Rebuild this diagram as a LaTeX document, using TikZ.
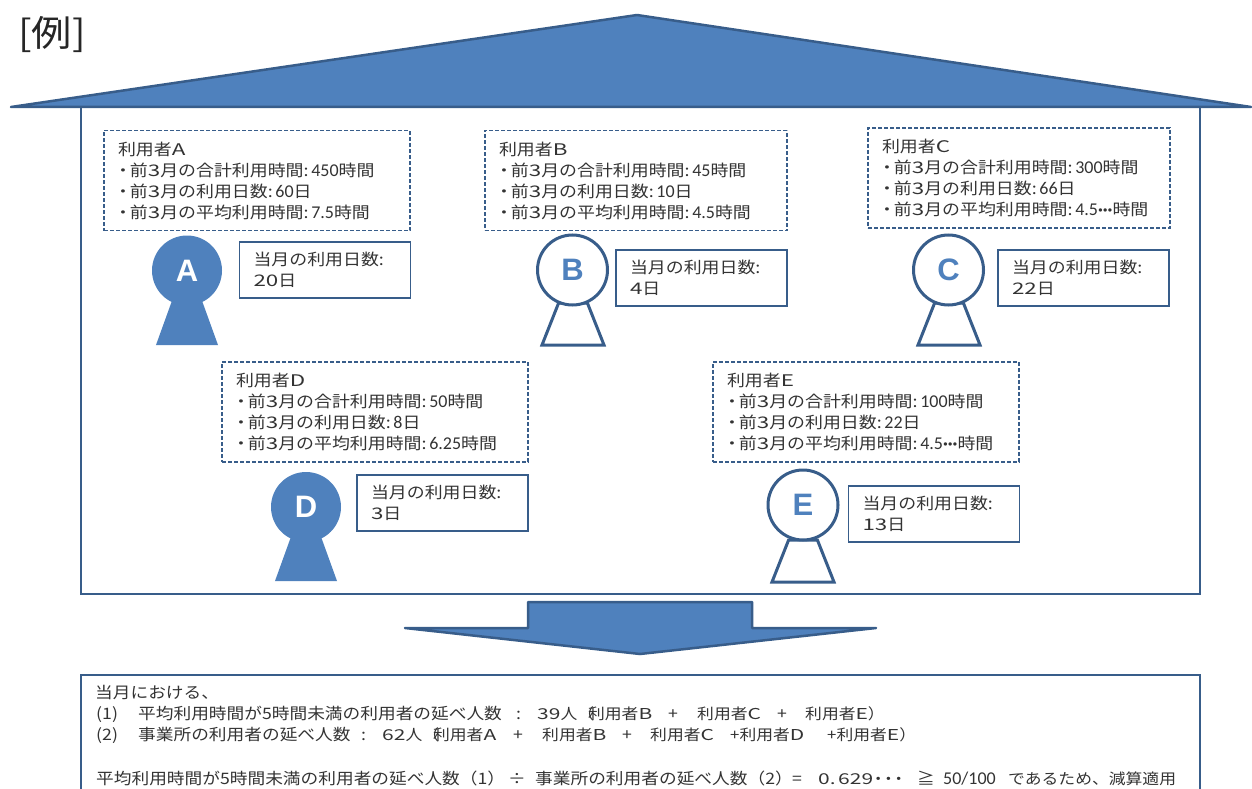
\documentclass[tikz,border=0pt]{standalone}
\usepackage{fontspec}
\setmainfont{Noto Sans CJK JP}[FakeStretch=1.12]
\newfontfamily\numfont{Carlito}
\newfontfamily\widefont{Noto Sans CJK JP}[FakeStretch=1.4]
\newfontfamily\markfont{Liberation Sans}
\usetikzlibrary{shapes.geometric}
\definecolor{blockfill}{HTML}{4F81BD}
\definecolor{blockline}{HTML}{385D8A}
\newcommand{\dig}[1]{{\numfont\fontsize{18}{21}\selectfont #1}}
\newcommand{\wid}[1]{{\widefont #1}}
\newcommand{\usr}[1]{利用者\wid{#1}}
\newcommand{\zan}{{\bfseries ···}}
\newcommand{\tb}[2]{\leavevmode\rlap{\hspace*{#1pt}#2}}
\newcommand{\tbs}[2]{\tb{#1}{\fontsize{15}{20.8}\selectfont #2}}
\newcommand{\opn}{（\kern-6pt}
\newcommand{\mon}{\hspace*{-4pt}・\hspace{-2pt}前\wid{3}月の}
\newcommand{\userinfo}[4]{\usr{#1}\\\mon 合計利用時間:\,\dig{#2}時間\\\mon 利用日数:\,\dig{#3}日\\\mon 平均利用時間:\,\dig{#4}時間}
\newcommand{\bodysize}{\phantom{\rule{1pt}{1pt}}}
\tikzset{
    infobox/.style={draw=blockline,dash pattern=on 4pt off 2pt,line width=1.4pt,minimum height=100pt,text width=278pt,inner xsep=14pt,inner ysep=0pt,align=left,text=black!80,font=\fontsize{16}{21}\selectfont},
    daybox/.style={draw=blockline,line width=1.4pt,minimum height=56pt,text width=143pt,inner xsep=14pt,inner ysep=0pt,align=left,text=black!80,font=\fontsize{16}{21}\selectfont},
    headfill/.style={circle,fill=blockfill,minimum size=70pt,inner sep=0pt,text=white,font=\markfont\bfseries\fontsize{31}{31}\selectfont},
    headline/.style={circle,draw=blockline,fill=white,line width=3pt,minimum size=70pt,inner sep=0pt,text=blockfill,font=\markfont\bfseries\fontsize{31}{31}\selectfont},
    bodyfill/.style={trapezium,trapezium stretches=true,trapezium left angle=60,trapezium right angle=60,fill=blockfill,minimum width=62pt,minimum height=46pt,inner sep=0pt},
    bodyline/.style={trapezium,trapezium stretches=true,trapezium left angle=60,trapezium right angle=60,draw=blockline,line width=3pt,minimum width=62pt,minimum height=42pt,inner sep=0pt},
    plate/.style={fill=blockfill,draw=blockline,line width=2.5pt,line join=round}
}
\begin{document}
\begin{tikzpicture}[x=1pt,y=-1pt]
	\useasboundingbox (0,0) rectangle (1252,789);
	% house
	\draw[blockline,line width=2.5pt] (81,107) rectangle (1200,594);
	\draw[plate] (11,107) -- (637,15) -- (1251,107) -- cycle;
	\node[font=\fontsize{36}{36}\selectfont,text=black!85] (title) at (52,35) {[例]};
	% users
	\node[infobox] (infoA) at (257,180.5) {\userinfo{A}{450}{60}{7.5}};
	\node[infobox,text width=274pt] (infoB) at (636,180.5) {\userinfo{B}{45}{10}{4.5}};
	\node[infobox,text width=274pt] (infoC) at (1019,178) {\userinfo{C}{300}{66}{4.5\zan}};
	\node[infobox] (infoD) at (375,412) {\userinfo{D}{50}{8}{6.25}};
	\node[infobox] (infoE) at (866,412) {\userinfo{E}{100}{22}{4.5\zan}};
	\node[daybox] (dayA) at (325,270) {当月の利用日数:\\\wid{20}日};
	\node[daybox] (dayB) at (701.5,278) {当月の利用日数:\\\wid{4}日};
	\node[daybox] (dayC) at (1083.5,278) {当月の利用日数:\\\wid{22}日};
	\node[daybox] (dayD) at (442.5,503) {当月の利用日数:\\\wid{3}日};
	\node[daybox] (dayE) at (934,514) {当月の利用日数:\\\wid{13}日};
	\node[bodyfill] (bodyA) at (187,322) {\bodysize};
	\node[headfill] (headA) at (187,270.5) {A};
	\node[bodyline] (bodyB) at (573,324) {\bodysize};
	\node[headline] (headB) at (572.5,270) {B};
	\node[bodyline] (bodyC) at (949,324) {\bodysize};
	\node[headline] (headC) at (948.5,270) {C};
	\node[bodyfill] (bodyD) at (306,558) {\bodysize};
	\node[headfill] (headD) at (306,507) {D};
	\node[bodyline] (bodyE) at (803,561) {\bodysize};
	\node[headline] (headE) at (803,505) {E};
	% arrow
	\draw[plate] (528,602) -- (752,602) -- (752,628) -- (876,628) -- (640,654) -- (405,628) -- (528,628) -- cycle;
	% result
	\draw[blockline,line width=2pt] (81,789) -- (81,675) -- (1200,675) -- (1200,789);
	\node[anchor=north west,inner sep=0pt,text width=1100pt,align=left,text=black!80,font=\fontsize{15.8}{20.8}\selectfont] (result) at (95,685) {当月における、\\
	\tb{1}{(1)}\tb{43}{平均利用時間が5時間未満の利用者の延べ人数}\tb{421}{:}\tbs{442}{\wid{39}人\opn\usr{B}}\tb{573}{+}\tbs{602}{\usr{C}}\tb{682}{+}\tbs{710}{\usr{E}）}\\
	\tb{1}{(2)}\tb{43}{事業所の利用者の延べ人数}\tb{266}{:}\tbs{287}{\wid{62}人\opn\usr{A}}\tb{418}{+}\tbs{447}{\usr{B}}\tb{527}{+}\tbs{555}{\usr{C}}\tbs{635}{+\usr{D}}\tbs{732}{+\usr{E}）}\\[24pt]
	\tb{1}{平均利用時間が5時間未満の利用者の延べ人数（1）}\tb{413}{÷}\tb{440}{事業所の利用者の延べ人数（2）}\tb{697}{=}\tbs{723}{\wid{0.\,629}\zan}\tb{822}{≧}\tb{848}{\dig{50/100}}\tbs{913}{であるため、減算適用}};
\end{tikzpicture}
\end{document}
